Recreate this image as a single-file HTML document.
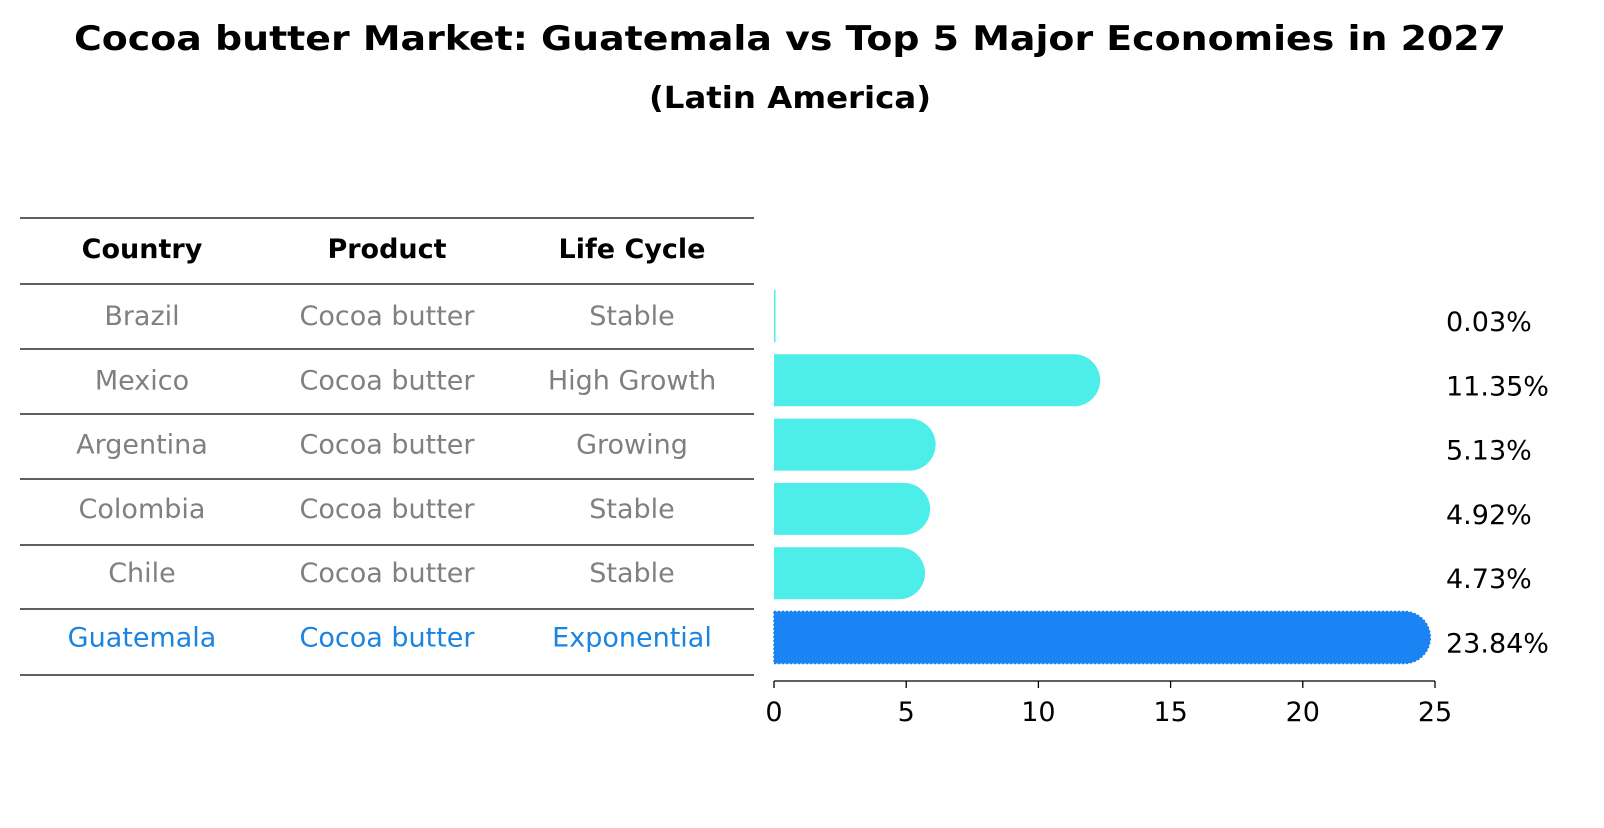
<!DOCTYPE html>
<html><head><meta charset="utf-8"><style>
body{margin:0;background:#fff;font-family:"Liberation Sans","DejaVu Sans",sans-serif;}
</style></head><body>
<svg width="1604" height="823" xmlns="http://www.w3.org/2000/svg" font-family="DejaVu Sans, Liberation Sans, sans-serif">
<text x="790" y="50" text-anchor="middle" font-size="34" font-weight="bold" textLength="1432" lengthAdjust="spacingAndGlyphs">Cocoa butter Market: Guatemala vs Top 5 Major Economies in 2027</text>
<text x="790" y="108" text-anchor="middle" font-size="30" font-weight="bold" textLength="282" lengthAdjust="spacingAndGlyphs">(Latin America)</text>
<g id="table"></g>
<g id="bars"></g>
<g id="axis"></g>
</svg>
<script>
const countries=["Brazil","Mexico","Argentina","Colombia","Chile","Guatemala"];
const products=["Cocoa butter","Cocoa butter","Cocoa butter","Cocoa butter","Cocoa butter","Cocoa butter"];
const lifecycle=["Stable","High Growth","Growing","Stable","Stable","Exponential"];
const values=[0.03,11.35,5.13,4.92,4.73,23.84];
const valueLabels=["0.03%","11.35%","5.13%","4.92%","4.73%","23.84%"];
const ticks=[0,5,10,15,20,25];
const NS="http://www.w3.org/2000/svg";
function mk(t,a,p){const e=document.createElementNS(NS,t);for(const k in a)e.setAttribute(k,a[k]);p.appendChild(e);return e;}
const x=v=>774+v*(1435-774)/25;
const rowY=i=>316+i*64.3;
const FS=27;
const tb=document.getElementById('table'),bg=document.getElementById('bars'),ax=document.getElementById('axis');
const lines=[218,284,349,414,479,545,609,675];
lines.forEach(y=>{const l=mk('line',{x1:20,x2:754,y1:y,y2:y,stroke:'#000','stroke-width':1.2},tb);
});
const cx=[142,387,632];
["Country","Product","Life Cycle"].forEach((h,j)=>{const t=mk('text',{x:cx[j],y:258,'text-anchor':'middle','font-size':FS,'font-weight':'bold'},tb);t.textContent=h;
});
countries.forEach((c,i)=>{const col=i==5?'#1a84e0':'#808080';
[c,products[i],lifecycle[i]].forEach((s,j)=>{const t=mk('text',{x:cx[j],y:rowY(i)+9,'text-anchor':'middle','font-size':FS,fill:col},tb);t.textContent=s;
});
const h=52,yc=rowY(i),w=x(values[i])-x(0),col2=i==5?'#1a84f5':'#4deeea';
let b;
if(w<3){b=mk('rect',{x:774,y:yc-h/2,width:Math.max(w,1.5),height:h,fill:col2},bg);}
else{const r=h/2;b=mk('path',{d:`M774 ${yc-r} H${774+w} A${r} ${r} 0 0 1 ${774+w} ${yc+r} H774 Z`,fill:col2},bg);
if(i==5){b.setAttribute('stroke','#1a7de8');b.setAttribute('stroke-dasharray','2 2');b.setAttribute('stroke-width','1.5');}}

const t=mk('text',{x:1446,y:yc+15,'font-size':FS},bg);t.textContent=valueLabels[i];
});
const al=mk('line',{x1:774,x2:1435,y1:681,y2:681,stroke:'#000','stroke-width':1.3},ax);

ticks.forEach(v=>{const l=mk('line',{x1:x(v),x2:x(v),y1:681,y2:688,stroke:'#000','stroke-width':1.3},ax);

const t=mk('text',{x:x(v),y:721,'text-anchor':'middle','font-size':FS},ax);t.textContent=v;
});
</script>
</body></html>
